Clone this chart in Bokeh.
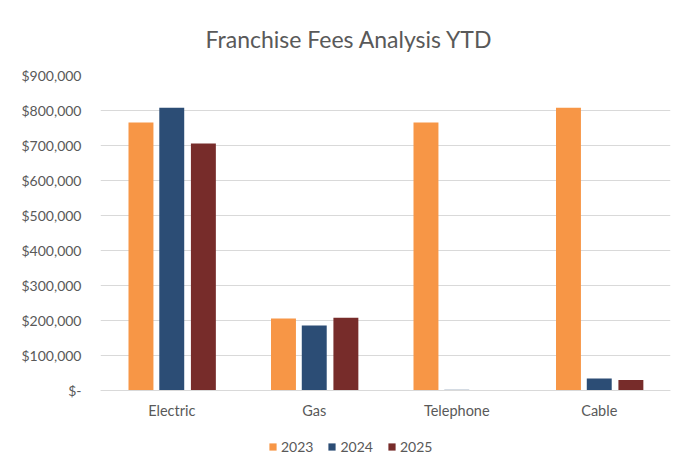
from bokeh.plotting import figure
from bokeh.models import FactorRange, Range1d, FixedTicker, Legend, LegendItem, Span
from bokeh.core.properties import value
from bokeh.transform import dodge
from bokeh.embed import file_html
from bokeh.resources import INLINE
from bokeh.models import ColumnDataSource

categories = ["Electric", "Gas", "Telephone", "Cable"]
years = ["2023", "2024", "2025"]
fees_2023 = [766000, 206000, 766000, 808000]
fees_2024 = [808000, 186000, 2000, 34000]
fees_2025 = [706000, 208000, 0, 30000]
tick_values = [0, 100000, 200000, 300000, 400000, 500000, 600000, 700000, 800000, 900000]
tick_labels = ["$-", "$100,000", "$200,000", "$300,000", "$400,000", "$500,000",
               "$600,000", "$700,000", "$800,000", "$900,000"]
colors = ["#F79646", "#2C4D75", "#772C2A"]

FONT = "Lato"
GRAY = "#595959"

# layout (pixels)
W, H = 678, 466
TOP, LEFT, RIGHT, BOTTOM = 75, 100, 8, 0
AXIS_PX = 315          # height from $0 to $900,000
BELOW_PX = H - TOP - BOTTOM - AXIS_PX  # extra frame space below the baseline
y_max = tick_values[-1]
y_min = -BELOW_PX * y_max / AXIS_PX

src = ColumnDataSource(dict(cat=categories, y2023=fees_2023, y2024=fees_2024, y2025=fees_2025))

p = figure(x_range=FactorRange(*categories), y_range=Range1d(y_min, y_max),
           width=W, height=H, output_backend="svg", toolbar_location=None,
           min_border_left=LEFT, min_border_right=RIGHT, min_border_top=TOP,
           min_border_bottom=BOTTOM)

p.title.text = "Franchise Fees Analysis YTD"
p.title.align = "left"
p.title.offset = 105
p.title.text_font = FONT
p.title.text_font_size = "23px"
p.title.text_font_style = "normal"
p.title.text_color = GRAY
p.title.standoff = 45

offsets = [-0.216, 0.0, 0.222]
renderers = []
for yr, off, col in zip(years, offsets, colors):
    r = p.vbar(x=dodge("cat", off, range=p.x_range), top="y" + yr, width=0.175,
               source=src, fill_color=col, line_color=None)
    renderers.append(r)

# baseline
p.add_layout(Span(location=0, dimension="width", line_color="#D9D9D9", line_width=1))

# category labels
p.text(x="cat", y=0, text="cat", source=src, y_offset=20,
       text_align="center", text_baseline="middle",
       text_font=value(FONT), text_font_size="14.5px", text_color=GRAY)

p.outline_line_color = None
p.xgrid.grid_line_color = None
p.ygrid.grid_line_color = "#D9D9D9"
p.ygrid.grid_line_width = 1
p.ygrid.ticker = FixedTicker(ticks=tick_values)

p.xaxis.visible = False

p.yaxis.ticker = FixedTicker(ticks=tick_values)
p.yaxis.major_label_overrides = {v: l for v, l in zip(tick_values, tick_labels)}
p.yaxis.axis_line_color = None
p.yaxis.major_tick_line_color = None
p.yaxis.minor_tick_line_color = None
p.yaxis.major_label_standoff = 13
p.yaxis.major_label_text_font = FONT
p.yaxis.major_label_text_font_size = "14px"
p.yaxis.major_label_text_color = GRAY

legend = Legend(items=[LegendItem(label=yr, renderers=[r]) for yr, r in zip(years, renderers)],
                orientation="horizontal", location=(168, 11))
legend.padding = 0
legend.margin = 0
legend.spacing = 14
legend.glyph_width = 9
legend.glyph_height = 9
legend.label_standoff = 4
legend.label_text_font = FONT
legend.label_text_font_size = "14px"
legend.label_text_color = GRAY
legend.border_line_color = None
legend.background_fill_alpha = 0
p.add_layout(legend, "center")

open("out.html", "w").write(file_html(p, INLINE))
